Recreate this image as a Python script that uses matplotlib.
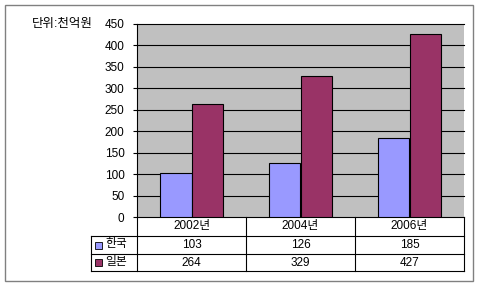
import matplotlib
matplotlib.use("Agg")
import matplotlib.pyplot as plt
from matplotlib.patches import Rectangle
from matplotlib.lines import Line2D

plt.rcParams['font.family'] = ['Liberation Sans', 'Noto Sans CJK KR']

categories = ["2002년", "2004년", "2006년"]
series_names = ["한국", "일본"]
korea = [103, 126, 185]
japan = [264, 329, 427]
unit_label = "단위:천억원"
y_max = 450
y_step = 50

colors = ["#9999FF", "#993366"]

W, H = 480, 290
fig = plt.figure(figsize=(W / 100, H / 100), dpi=100)

def fx(x):
    return x / W

def fy(y):
    return 1 - y / H

# plot area in pixels
L, R, T, B = 137, 464, 24, 217
ax = fig.add_axes([fx(L), fy(B), fx(R - L), (B - T) / H])
ax.set_facecolor("#C0C0C0")

n = len(categories)
bw = 0.285
centers = [i + 0.5 for i in range(n)]
ax.bar([c - bw / 2 for c in centers], korea, width=bw, color=colors[0],
       edgecolor="black", linewidth=0.8, zorder=3)
ax.bar([c + bw / 2 for c in centers], japan, width=bw, color=colors[1],
       edgecolor="black", linewidth=0.8, zorder=3)

ax.set_xlim(0, n)
ax.set_ylim(0, y_max)
ticks = list(range(0, y_max + 1, y_step))
ax.set_yticks(ticks)
ax.set_yticklabels([str(t) for t in ticks], fontsize=8.5)
ax.set_xticks([])
for t in ticks[1:]:
    ax.axhline(t, color="black", linewidth=0.8, zorder=1, clip_on=False)
ax.tick_params(axis="y", length=3, width=0.8, pad=6, colors="black")
for s in ["top", "right"]:
    ax.spines[s].set_visible(False)
ax.spines["left"].set_color("black")
ax.spines["bottom"].set_color("black")

fig.text(fx(93), fy(24), unit_label, fontsize=9, ha="right", va="center")

# table
lw = 0.8
def hline(y, x0, x1):
    fig.add_artist(Line2D([fx(x0), fx(x1)], [fy(y), fy(y)], color="black",
                          linewidth=lw, transform=fig.transFigure))

def vline(x, y0, y1):
    fig.add_artist(Line2D([fx(x), fx(x)], [fy(y0), fy(y1)], color="black",
                          linewidth=lw, transform=fig.transFigure))

rows_y = [217, 236, 254, 271]
hline(236, 91, R)
hline(254, 91, R)
hline(271, 91, R)
vline(91, 236, 271)
col_w = (R - L) / n
for i in range(n + 1):
    vline(L + i * col_w, 217, 271)

for i, cat in enumerate(categories):
    cx = L + (i + 0.5) * col_w
    fig.text(fx(cx), fy((217 + 236) / 2), cat, fontsize=8.5, ha="center", va="center")
    fig.text(fx(cx), fy((236 + 254) / 2), str(korea[i]), fontsize=8.5, ha="center", va="center")
    fig.text(fx(cx), fy((254 + 271) / 2), str(japan[i]), fontsize=8.5, ha="center", va="center")

for j, (name, col) in enumerate(zip(series_names, colors)):
    yc = (rows_y[j + 1] + rows_y[j + 2]) / 2
    fig.add_artist(Rectangle((fx(95), fy(yc + 3.5)), fx(7), 7 / H, facecolor=col,
                             edgecolor="black", linewidth=0.6, transform=fig.transFigure))
    fig.text(fx(105), fy(yc - 0.5), name, fontsize=8.5, ha="left", va="center")

# outer border
fig.add_artist(Rectangle((fx(5), fy(281)), fx(468), 276 / H, facecolor="none",
                         edgecolor="#808080", linewidth=1, transform=fig.transFigure))

fig.savefig("out.png", dpi=100)
